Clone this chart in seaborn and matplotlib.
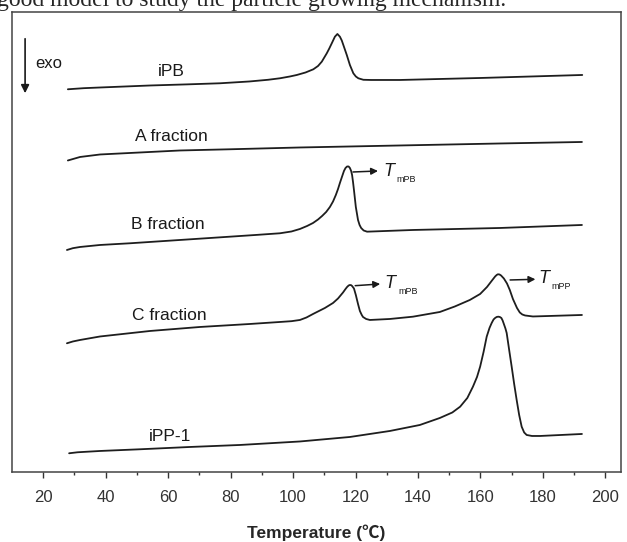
import numpy as np
import pandas as pd
import matplotlib
matplotlib.use("Agg")
import matplotlib.pyplot as plt
import seaborn as sns

# ------------------------------------------------------------
# DATA (heat flow in a.u., offset)
# ------------------------------------------------------------
ipb_t = [27.9, 33.0, 38.3, 54.3, 66.0, 76.6, 86.0, 92.0, 95.8, 99.0, 101.2, 104.0,
         106.5, 108.0, 109.2, 110.8, 111.6, 112.4, 113.4, 114.2, 115.0, 115.6,
         116.1, 117.2, 118.2, 119.3, 120.1, 120.9, 122.5, 125.0, 134.2, 160.0, 192.6]
ipb_hf = [38.27, 38.38, 38.45, 38.65, 38.76, 38.87, 39.05, 39.22, 39.37, 39.55, 39.7,
          39.95, 40.27, 40.6, 41.03, 41.87, 42.35, 42.87, 43.53, 43.8, 43.53, 43.15,
          42.7, 41.7, 40.7, 39.87, 39.55, 39.37, 39.22, 39.2, 39.2, 39.4, 39.7]

a_t = [27.9, 31.8, 38.2, 47.8, 63.8, 79.8, 102.2, 134.2, 166.3, 192.5]
a_hf = [31.15, 31.5, 31.75, 31.9, 32.15, 32.27, 32.45, 32.65, 32.85, 33.0]

b_t = [27.6, 29.5, 31.8, 38.2, 47.8, 63.8, 79.8, 88.0, 95.8, 99.5, 102.2, 104.5,
       106.4, 108.0, 109.3, 110.6, 111.8, 112.8, 113.7, 114.4, 115.0, 115.7, 116.3,
       116.8, 117.3, 117.8, 118.2, 118.6, 118.9, 119.2, 119.5, 120.1, 120.8, 121.3,
       121.8, 122.6, 123.7, 138.4, 166.3, 192.5]
b_hf = [22.2, 22.38, 22.5, 22.7, 22.87, 23.2, 23.53, 23.7, 23.87, 24.05, 24.3, 24.6,
        24.9, 25.25, 25.6, 26.0, 26.5, 27.05, 27.7, 28.3, 28.9, 29.55, 30.1,
        30.4, 30.55, 30.55, 30.4, 30.1, 29.7, 29.0, 28.2, 26.5, 25.2, 24.7,
        24.4, 24.15, 24.03, 24.2, 24.4, 24.7]

c_t = [27.6, 29.5, 31.8, 38.2, 54.2, 70.2, 86.2, 95.8, 99.5, 102.2, 104.3, 106.4,
       108.3, 110.2, 112.8, 114.4, 116.0, 116.8, 117.3, 117.8, 118.2, 118.6, 118.9,
       119.5, 120.1, 120.8, 121.4, 122.0, 122.4, 123.4, 124.6, 131.0, 138.4, 147.0,
       151.8, 156.6, 159.9, 162.1, 163.7, 164.7, 165.2, 165.6, 166.1, 166.6, 167.5,
       168.5, 169.4, 170.4, 171.7, 172.6, 173.4, 174.3, 176.8, 192.5]
c_hf = [12.87, 13.05, 13.2, 13.55, 14.1, 14.5, 14.8, 15.0, 15.08, 15.2, 15.45, 15.8,
        16.1, 16.4, 16.9, 17.35, 17.95, 18.3, 18.5, 18.65, 18.7, 18.68, 18.6,
        18.35, 17.7, 16.8, 16.1, 15.7, 15.5, 15.3, 15.2, 15.3, 15.53, 16.0,
        16.55, 17.2, 17.8, 18.5, 19.15, 19.55, 19.7, 19.77, 19.75, 19.65, 19.35,
        18.85, 18.2, 17.3, 16.4, 15.95, 15.75, 15.65, 15.55, 15.7]

ipp_t = [28.3, 31.0, 38.2, 51.0, 67.0, 83.0, 102.2, 118.2, 131.0, 140.6, 147.0,
         151.0, 153.5, 155.8, 157.6, 158.9, 159.9, 161.0, 162.0, 162.9, 163.6, 164.2,
         164.7, 165.2, 165.7, 166.2, 166.7, 167.1, 167.5, 168.0, 168.4, 169.2, 170.0,
         170.8, 171.6, 172.4, 173.2, 174.0, 174.8, 176.5, 179.1, 192.5]
ipp_hf = [1.87, 1.97, 2.1, 2.27, 2.5, 2.7, 3.05, 3.5, 4.1, 4.7, 5.4,
          5.95, 6.53, 7.4, 8.53, 9.5, 10.53, 12.0, 13.53, 14.4, 14.9, 15.25,
          15.4, 15.5, 15.53, 15.5, 15.4, 15.15, 14.8, 14.35, 13.9, 12.2, 10.53,
          8.8, 7.2, 5.7, 4.53, 3.95, 3.7, 3.6, 3.6, 3.8]

curve_names = ["iPB", "A fraction", "B fraction", "C fraction", "iPP-1"]
label_pos = [(60.9, 40.0), (60.9, 33.5), (60.0, 24.7), (60.3, 15.6), (60.6, 3.5)]

xticks = [20, 40, 60, 80, 100, 120, 140, 160, 180, 200]

# ------------------------------------------------------------
# PLOT
# ------------------------------------------------------------
sns.set_style("ticks")
plt.rcParams['font.family'] = ['Liberation Sans', 'Noto Sans CJK SC', 'DejaVu Sans']

frames = []
for name, t, hf in zip(curve_names,
                       [ipb_t, a_t, b_t, c_t, ipp_t],
                       [ipb_hf, a_hf, b_hf, c_hf, ipp_hf]):
    frames.append(pd.DataFrame({'T': t, 'hf': hf, 'sample': name}))
df = pd.concat(frames, ignore_index=True)

fig = plt.figure(figsize=(6.27, 5.42), dpi=100)
ax = fig.add_axes([0.0191, 0.1292, 0.9713, 0.8487])

for name in curve_names:
    sub = df[df['sample'] == name]
    sns.lineplot(data=sub, x='T', y='hf', ax=ax, color='#1e1e1e', linewidth=1.3,
                 sort=False, estimator=None, legend=False)

ax.set_xlim(10, 205)
ax.set_ylim(0, 46)
ax.set_yticks([])
ax.set_xticks(xticks)
ax.set_xticks([30, 50, 70, 90, 110, 130, 150, 170, 190], minor=True)
ax.tick_params(axis='x', which='major', direction='out', length=4, width=1,
               labelsize=12, pad=9, colors='#333333')
ax.tick_params(axis='x', which='minor', direction='out', length=2.2, width=1,
               colors='#333333')
ax.set_xlabel('Temperature (℃)', fontsize=12.5, fontweight='bold', labelpad=14)
ax.set_ylabel('')
for s in ax.spines.values():
    s.set_visible(True)
    s.set_linewidth(1.1)
    s.set_color('#444444')

# sample labels
for name, (x, y) in zip(curve_names, label_pos):
    ax.text(x, y, name, fontsize=12.5, ha='center', va='center', color='#1a1a1a')

# exo arrow
ax.annotate('', xy=(14.2, 37.6), xytext=(14.2, 43.6),
            arrowprops=dict(arrowstyle='-|>', color='#1a1a1a', lw=1.2,
                            mutation_scale=12))
ax.text(21.8, 40.8, 'exo', fontsize=12, ha='center', va='center', color='#1a1a1a')

# melting point markers
marks = [((119.2, 30.0), (127.2, 30.1), (128.8, 30.05), (133.0, 29.2), 'mPB'),
         ((119.9, 18.63), (127.9, 18.8), (129.4, 18.85), (133.6, 18.0), 'mPB'),
         ((169.5, 19.2), (177.6, 19.27), (178.5, 19.35), (182.7, 18.5), 'mPP')]
for start, end, tpos, spos, sub in marks:
    ax.annotate('', xy=end, xytext=start,
                arrowprops=dict(arrowstyle='-|>', color='#1a1a1a', lw=1.1,
                                mutation_scale=10, shrinkA=0, shrinkB=0))
    ax.text(tpos[0], tpos[1], 'T', fontsize=13, style='italic', ha='left',
            va='center', color='#1a1a1a')
    ax.text(spos[0], spos[1], sub, fontsize=6.5, ha='left', va='center',
            color='#1a1a1a')

# cut-off line of the page text above the figure
fig.text(-0.004, 0.989, 'good model to study the particle growing mechanism.',
         fontsize=17, family='Liberation Serif', ha='left', va='baseline')

fig.savefig('out.png', dpi=100)
